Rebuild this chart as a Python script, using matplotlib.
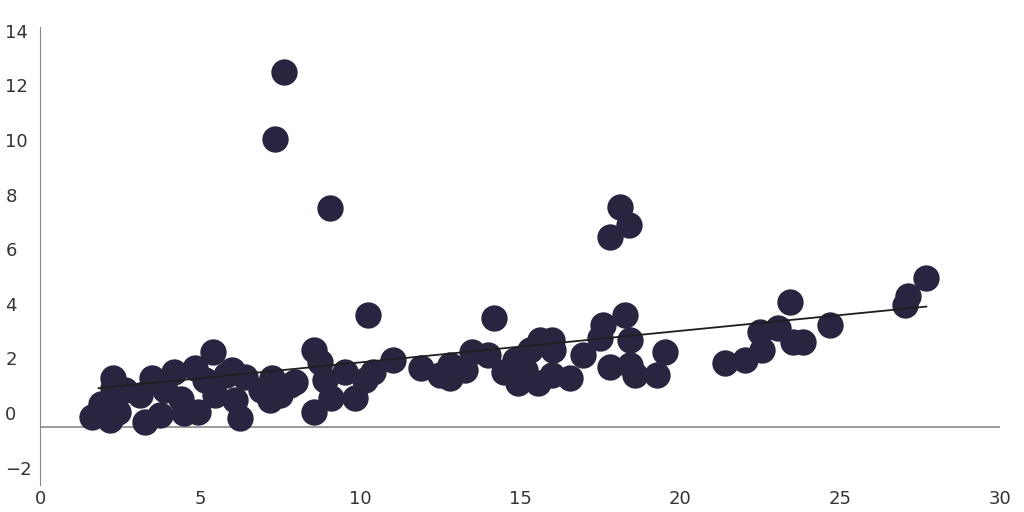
import matplotlib
matplotlib.use("Agg")
import matplotlib.pyplot as plt
import numpy as np

x = [1.63,1.9,2.19,2.28,2.28,2.44,2.66,3.13,3.28,3.5,3.75,3.9,4.2,4.4,4.5,4.84,4.94,5.16,5.4,5.47,5.8,6.0,6.1,6.25,6.4,6.9,7.2,7.25,7.5,7.8,7.97,7.34,7.63,8.56,8.56,8.75,9.06,8.9,9.1,9.53,9.84,10.16,10.25,10.4,11.03,11.9,12.5,12.8,12.8,13.28,13.5,14.0,14.2,14.5,14.84,14.94,15.16,15.3,15.56,15.63,16.0,16.0,16.03,16.56,16.97,17.5,17.6,17.8,17.8,18.13,18.28,18.4,18.44,18.44,18.6,19.28,19.53,21.4,22.03,22.5,22.56,23.06,23.44,23.53,23.84,24.7,27.03,27.13,27.7]
y = [-0.15,0.33,-0.25,1.28,0.9,0.04,0.85,0.66,-0.33,1.28,-0.07,0.84,1.5,0.5,0.0,1.65,0.04,1.2,2.23,0.66,1.4,1.57,0.48,-0.18,1.3,0.84,0.48,1.28,0.66,1.03,1.14,10.04,12.5,2.3,0.04,1.87,7.5,1.2,0.55,1.5,0.55,1.2,3.59,1.5,1.94,1.65,1.4,1.28,1.76,1.57,2.23,2.12,3.48,1.5,1.94,1.1,1.57,2.3,1.1,2.67,2.67,1.4,2.3,1.28,2.12,2.75,3.22,6.45,1.68,7.55,3.59,6.9,2.67,1.76,1.4,1.4,2.23,1.83,1.94,2.97,2.3,3.11,4.07,2.6,2.6,3.22,3.96,4.29,4.95]
yticks = [-2,0,2,4,6,8,10,12,14]
xticks = [0,5,10,15,20,25,30]

fig = plt.figure(figsize=(10.24,5.12), dpi=100)
ax = fig.add_axes([40/1024, 27/512, 960/1024, 458/512])
ax.scatter(x, y, s=360, color="#2a2440", zorder=3, linewidths=0)
xa = np.array(x); ya = np.array(y)
m, b = np.polyfit(xa, ya, 1)
xs = np.array([xa.min()+0.2, xa.max()])
ax.plot(xs, m*xs+b, color="#1e1e1e", lw=1.3, zorder=4)
ax.axhline(-0.5, color="#888888", lw=1.2, zorder=1)
ax.set_xlim(0,30)
ax.set_ylim(-2.64,14.14)
ax.set_xticks(xticks); ax.set_yticks(yticks)
for s in ["top","right","bottom"]:
    ax.spines[s].set_visible(False)
ax.spines["left"].set_color("#888888")
ax.tick_params(length=0, labelsize=13, colors="#333333")
ax.tick_params(axis="y", pad=25)
for lab in ax.get_yticklabels():
    lab.set_horizontalalignment("left")
fig.savefig("out.png")
